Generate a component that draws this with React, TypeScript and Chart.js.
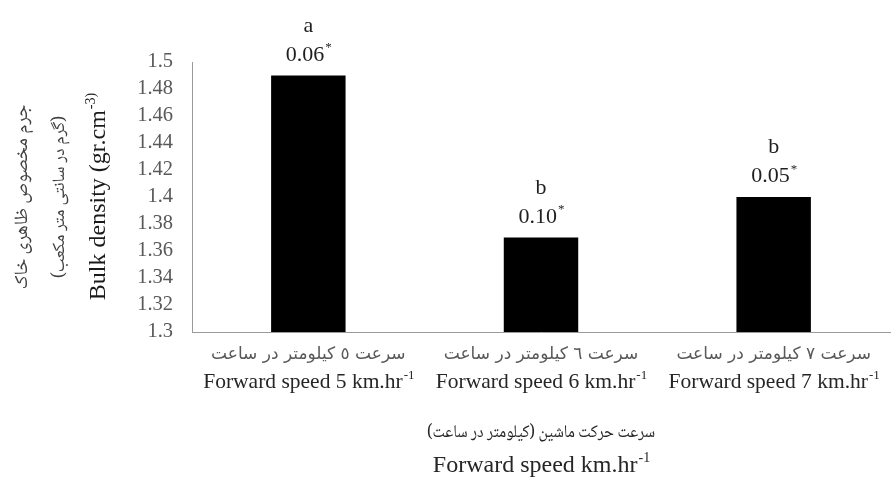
import React, { useEffect, useRef } from 'react';
import { Chart, registerables } from 'chart.js';

Chart.register(...registerables);

const categoriesFa = ['سرعت ٥ کیلومتر در ساعت', 'سرعت ٦ کیلومتر در ساعت', 'سرعت ٧ کیلومتر در ساعت'];
const categoriesEn = ['Forward speed 5 km.hr^-1', 'Forward speed 6 km.hr^-1', 'Forward speed 7 km.hr^-1'];
const bulkDensity = [1.49, 1.37, 1.4];
const seLabels = ['0.06^*', '0.10^*', '0.05^*'];
const groupLetters = ['a', 'b', 'b'];
const yMin = 1.3;
const yMax = 1.5;
const yStep = 0.02;
const yTitleFa = 'جرم مخصوص ظاهری خاک';
const yTitleFa2 = '(گرم در سانتی متر مکعب)';
const yTitleEn = 'Bulk density (gr.cm^-3)';
const xTitleFa = 'سرعت حرکت ماشین (کیلومتر در ساعت)';
const xTitleEn = 'Forward speed km.hr^-1';

const SERIF = "'Liberation Serif', 'Times New Roman', serif";
const FA = "'Noto Naskh Arabic', 'DejaVu Sans', sans-serif";
const FA_SANS = "'DejaVu Sans', sans-serif";

function drawRich(ctx: CanvasRenderingContext2D, text: string, x: number, y: number, size: number, color: string) {
  const [main, sup] = text.split('^');
  const mainFont = `${size}px ${SERIF}`;
  const supSize = Math.round(size * 0.6);
  const supFont = `${supSize}px ${SERIF}`;
  ctx.save();
  ctx.fillStyle = color;
  ctx.textBaseline = 'alphabetic';
  ctx.textAlign = 'left';
  ctx.direction = 'ltr';
  ctx.font = mainFont;
  const w1 = ctx.measureText(main).width;
  let w2 = 0;
  if (sup) {
    ctx.font = supFont;
    w2 = ctx.measureText(sup).width;
  }
  const start = x - (w1 + w2) / 2;
  ctx.font = mainFont;
  ctx.fillText(main, start, y);
  if (sup) {
    ctx.font = supFont;
    ctx.fillText(sup, start + w1 + 1, y - size * 0.42);
  }
  ctx.restore();
}

function drawFa(ctx: CanvasRenderingContext2D, text: string, x: number, y: number, size: number, color: string, family: string, targetWidth?: number) {
  ctx.save();
  ctx.fillStyle = color;
  ctx.font = `${size}px ${family}`;
  ctx.direction = 'rtl';
  ctx.textAlign = 'center';
  ctx.textBaseline = 'middle';
  ctx.translate(x, y);
  if (targetWidth) {
    const w = ctx.measureText(text).width;
    if (w > targetWidth) ctx.scale(targetWidth / w, 1);
  }
  ctx.fillText(text, 0, 0);
  ctx.restore();
}

const textPlugin = {
  id: 'textPlugin',
  afterDraw(chart: any) {
    const ctx: CanvasRenderingContext2D = chart.ctx;
    const xs = chart.scales.x;
    const area = chart.chartArea;
    // category labels
    categoriesFa.forEach((lab, i) => {
      const px = xs.getPixelForValue(i);
      drawFa(ctx, lab, px, area.bottom + 23, 17, '#595959', FA_SANS);
      drawRich(ctx, categoriesEn[i], px, area.bottom + 56, 21.5, '#262626');
    });
    // bar annotations
    const meta = chart.getDatasetMeta(0);
    meta.data.forEach((bar: any, i: number) => {
      drawRich(ctx, seLabels[i], bar.x, bar.y - 15, 22, '#1f1f1f');
      ctx.save();
      ctx.font = `22px ${SERIF}`;
      ctx.fillStyle = '#1f1f1f';
      ctx.textAlign = 'center';
      ctx.textBaseline = 'alphabetic';
      ctx.fillText(groupLetters[i], bar.x, bar.y - 44);
      ctx.restore();
    });
    // x titles
    const cx = (area.left + area.right) / 2;
    drawFa(ctx, xTitleFa, cx, 435, 18, '#262626', FA, 228);
    drawRich(ctx, xTitleEn, cx, 472, 24, '#262626');
    // y titles
    const cy = (area.top + area.bottom) / 2;
    ctx.save();
    ctx.translate(25, cy);
    ctx.rotate(-Math.PI / 2);
    drawFa(ctx, yTitleFa, 0, 0, 19, '#404040', FA);
    ctx.restore();
    ctx.save();
    ctx.translate(62, cy);
    ctx.rotate(-Math.PI / 2);
    drawFa(ctx, yTitleFa2, 0, 0, 17.5, '#404040', FA);
    ctx.restore();
    ctx.save();
    ctx.translate(105, cy);
    ctx.rotate(-Math.PI / 2);
    drawRich(ctx, yTitleEn, 0, 0, 24, '#1a1a1a');
    ctx.restore();
  },
};

export default function App() {
  const ref = useRef<HTMLCanvasElement>(null);
  useEffect(() => {
    if (!ref.current) return;
    const chart = new Chart(ref.current, {
      type: 'bar',
      data: {
        labels: categoriesEn,
        datasets: [
          {
            data: bulkDensity,
            backgroundColor: '#000000',
            borderWidth: 0,
            barPercentage: 0.32,
            categoryPercentage: 1,
          },
        ],
      },
      options: {
        animation: false,
        responsive: false,
        maintainAspectRatio: false,
        layout: { padding: { left: 0, right: 6, top: 62, bottom: 0 } },
        plugins: { legend: { display: false }, tooltip: { enabled: false }, title: { display: false } },
        scales: {
          x: {
            grid: { display: false, drawTicks: false },
            border: { display: true, color: '#9a9a9a', width: 1 },
            ticks: { display: false },
            afterFit: (s: any) => {
              s.height = 152;
            },
          },
          y: {
            min: yMin,
            max: yMax,
            grid: { display: false, drawTicks: false },
            border: { display: true, color: '#9a9a9a', width: 1 },
            ticks: {
              stepSize: yStep,
              autoSkip: false,
              padding: 19,
              color: '#595959',
              font: { family: SERIF, size: 20.5 },
              callback: (v: any) => String(parseFloat(Number(v).toFixed(2))),
            },
            afterFit: (s: any) => {
              s.width = 192;
            },
          },
        },
      },
      plugins: [textPlugin],
    });
    return () => chart.destroy();
  }, []);
  return (
    <div style={{ position: 'fixed', left: 0, top: 0, width: 896, height: 484, background: '#fff' }}>
      <canvas ref={ref} width={896} height={484} style={{ width: 896, height: 484 }} />
    </div>
  );
}
